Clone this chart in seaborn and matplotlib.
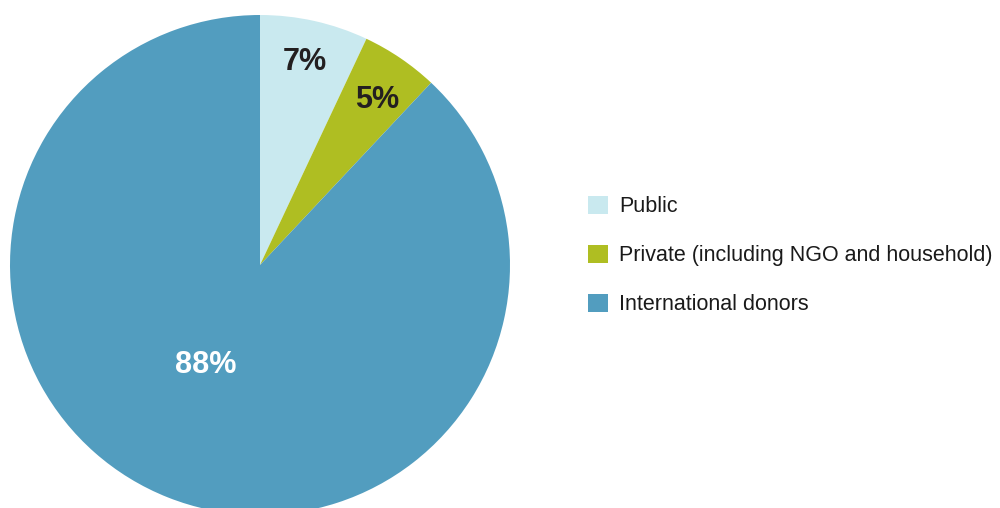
import matplotlib
matplotlib.use("Agg")
import numpy as np
import seaborn as sns
import matplotlib.pyplot as plt

# Funding sources share
sources = ["Public", "Private (including NGO and household)", "International donors"]
shares = [7, 5, 88]
colors = ["#C9E9EF", "#AFBE22", "#529DBF"]
label_colors = ["#231F20", "#231F20", "white"]

sns.set_theme(style="white")
plt.rcParams["font.family"] = ["Liberation Sans", "DejaVu Sans"]

fig = plt.figure(figsize=(10, 5.08), dpi=100)
# pie centred at (260, 265) px with radius 250 px
ax = fig.add_axes([10 / 1000, (508 - 515) / 508, 500 / 1000, 500 / 508])

wedges, texts, autotexts = ax.pie(
    shares, colors=sns.color_palette(colors), startangle=90, counterclock=False,
    autopct="%d%%", pctdistance=0.84, radius=1,
    wedgeprops=dict(linewidth=0),
    textprops=dict(fontsize=22, fontweight="bold"),
)
ax.set_xlim(-1, 1)
ax.set_ylim(-1, 1)
ax.set_aspect("auto")

# label placement: radius and angle offset per wedge
label_r = [0.83, 0.81, 0.455]
label_da = [0, -1, -7]
for t, c, w, r, da in zip(autotexts, label_colors, wedges, label_r, label_da):
    t.set_color(c)
    ang = np.deg2rad((w.theta1 + w.theta2) / 2 + da)
    t.set_position((r * np.cos(ang), r * np.sin(ang)))

leg = fig.legend(
    wedges, sources, loc="center left", bbox_to_anchor=(0.588, 0.497),
    frameon=False, fontsize=15.5, handlelength=0.95, handleheight=0.95,
    handletextpad=0.5, labelspacing=1.27, borderpad=0, borderaxespad=0,
)
for txt in leg.get_texts():
    txt.set_color("#1a1a1a")

fig.savefig("out.png", dpi=100)
